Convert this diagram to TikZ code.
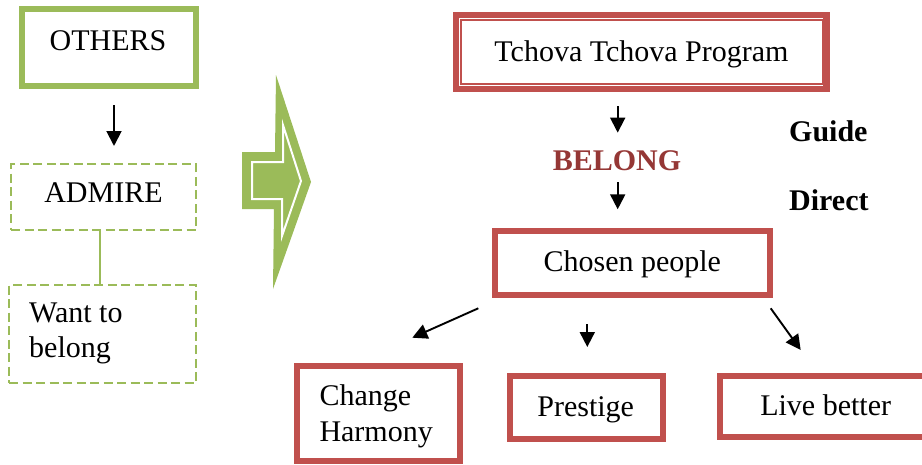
\documentclass[tikz,border=0pt]{standalone}
\usepackage{fontspec}
\setmainfont{Liberation Serif}
\usetikzlibrary{arrows.meta}
\definecolor{grn}{HTML}{9BBB59}
\definecolor{rd}{HTML}{C0504D}
\definecolor{drd}{HTML}{953735}
\begin{document}
\begin{tikzpicture}[x=1pt,y=-1pt,
  txt/.style={inner sep=0pt, font=\fontsize{30}{36}\selectfont, anchor=base},
  gbox/.style={draw=grn, line width=6pt, inner sep=0pt},
  dbox/.style={draw=grn, line width=2pt, dash pattern=on 9pt off 4.5pt, inner sep=0pt},
  rbox/.style={draw=rd, line width=6pt, inner sep=0pt},
  arr/.style={draw=black, line width=1.9pt, -{Triangle[length=15pt,width=15pt]}},
]
\useasboundingbox (0,0) rectangle (922,464);

% left column
\node[gbox, minimum width=173.7pt, minimum height=77pt] (others) at (109.2,47.5) {};
\node[txt] (tothers) at (108,50) {OTHERS};
\node[dbox, minimum width=185pt, minimum height=66pt] (admire) at (103.5,197) {};
\node[txt] (tadmire) at (103.5,202) {ADMIRE};
\node[dbox, minimum width=187pt, minimum height=98pt] (want) at (102.5,334) {};
\node[txt, anchor=base west] (twant) at (29,322) {Want to};
\node[txt, anchor=base west] (tbelong) at (29,357) {belong};

\coordinate (xa) at (114,0);
\draw[arr, shorten <=16pt, shorten >=17pt] (others.south -| xa) -- (admire.north -| xa);
\coordinate (xg) at (100,0);
\draw[grn, line width=1.5pt] (admire.south -| xg) -- (want.north -| xg);

% big green arrow
\fill[grn] (242,152) -- (275,152) -- (276,75) -- (311,182) -- (273,289) -- (274,209) -- (242,209) -- cycle;
\draw[white, line width=2pt, line join=miter] (252,162) -- (283,162) -- (283,125) -- (301,181) -- (282,236) -- (282,199) -- (252,199) -- cycle;

% right part
\node[draw=rd, line width=6.6pt, inner sep=0pt, minimum width=370.3pt, minimum height=74pt] (tchova) at (641.25,52.1) {};
\draw[rd, line width=2pt] ([shift={(8,8)}]tchova.north west) rectangle ([shift={(-7,-8.2)}]tchova.south east);
\node[txt] (ttchova) at (641.5,61) {Tchova Tchova Program};

\node[txt, text=drd] (belong) at (617,170.7) {\bfseries BELONG};
\node[txt, anchor=base west] (guide) at (789,141.7) {\bfseries Guide};
\node[txt, anchor=base west] (direct) at (789,210.7) {\bfseries Direct};

\node[rbox, minimum width=275.3pt, minimum height=64pt] (chosen) at (632.35,262.5) {};
\node[txt] (tchosen) at (632.3,271.7) {Chosen people};

\coordinate (xb) at (617.7,0);
\draw[arr, shorten <=13.6pt, shorten >=18pt] (tchova.south -| xb) -- (belong.north -| xb);
\draw[arr, shorten <=11.3pt, shorten >=18.2pt] (belong.south -| xb) -- (chosen.north -| xb);

\node[rbox, minimum width=162.6pt, minimum height=94.3pt] (change) at (378.5,413.35) {};
\node[txt, anchor=base west] (tchange) at (319.3,405.7) {Change};
\node[txt, anchor=base west] (tharmony) at (319.3,441.7) {Harmony};

\node[rbox, minimum width=153pt, minimum height=62.4pt] (prestige) at (586.2,407.5) {};
\node[txt] (tprestige) at (585.7,416.7) {Prestige};

\node[rbox, minimum width=204.7pt, minimum height=60.7pt] (live) at (822.65,406.65) {};
\node[txt] (tlive) at (825.7,415.7) {Live better};

\coordinate (l1) at (478.3,308.3);
\coordinate (l2) at (412.3,337.7);
\draw[arr] (l1) -- (l2);
\coordinate (xc) at (587.3,0);
\draw[arr, shorten <=26.5pt, shorten >=26.3pt] (chosen.south -| xc) -- (prestige.north -| xc);
\coordinate (r1) at (770.7,308.3);
\coordinate (r2) at (800.7,350);
\draw[arr] (r1) -- (r2);
\end{tikzpicture}
\end{document}
